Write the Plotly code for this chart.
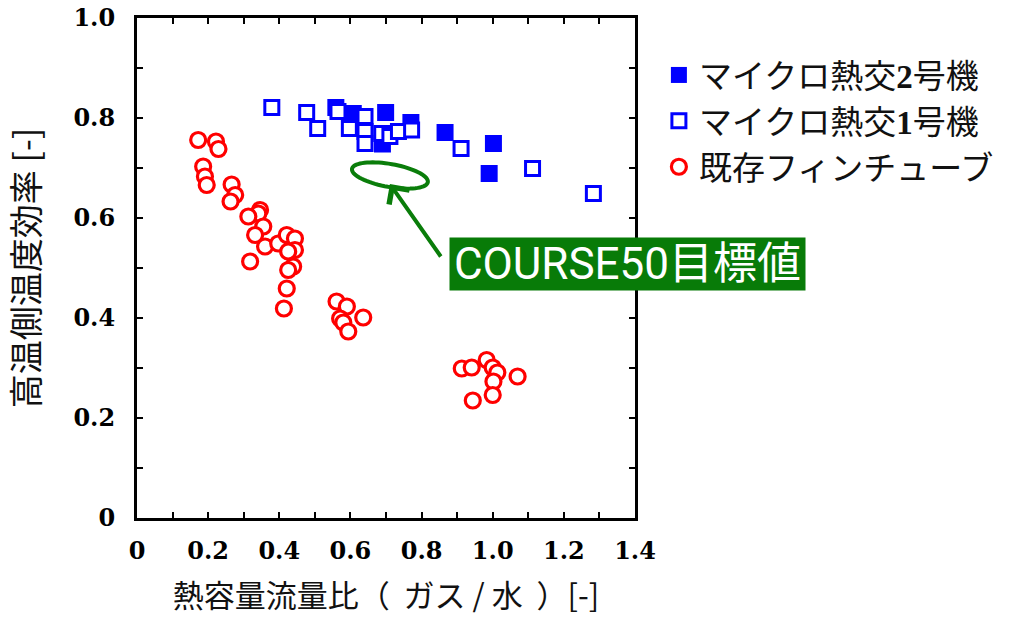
import numpy as np
import plotly.graph_objects as go

# --- data: heat-capacity-flow ratio (gas/water) vs. high-temperature-side efficiency ---
micro2_x = [0.559, 0.608, 0.699, 0.770, 0.690, 0.866, 1.002, 0.990]
micro2_y = [0.821, 0.809, 0.811, 0.791, 0.748, 0.771, 0.749, 0.689]

micro1_x = [0.379, 0.477, 0.508, 0.565, 0.597, 0.641, 0.641, 0.641, 0.688, 0.711,
            0.735, 0.772, 0.911, 1.112, 1.283]
micro1_y = [0.821, 0.811, 0.779, 0.813, 0.779, 0.803, 0.773, 0.749, 0.769, 0.763,
            0.773, 0.776, 0.739, 0.699, 0.649]

fin_x = [0.172, 0.222, 0.229, 0.186, 0.191, 0.196, 0.266, 0.276, 0.263, 0.346,
         0.341, 0.313, 0.355, 0.332, 0.360, 0.318, 0.397, 0.421, 0.444, 0.444,
         0.425, 0.439, 0.425, 0.421, 0.413,
         0.561, 0.590, 0.571, 0.636, 0.580, 0.594,
         0.913, 0.941, 0.983, 1.000, 1.013, 1.002, 1.070, 1.000, 0.944]
fin_y = [0.756, 0.753, 0.738, 0.703, 0.683, 0.666, 0.667, 0.646, 0.633, 0.616,
         0.609, 0.603, 0.583, 0.566, 0.543, 0.513, 0.549, 0.566, 0.559, 0.536,
         0.533, 0.503, 0.496, 0.459, 0.419,
         0.433, 0.423, 0.399, 0.401, 0.391, 0.373,
         0.299, 0.301, 0.316, 0.301, 0.291, 0.273, 0.283, 0.246, 0.235]

x_ticks = [0, 0.2, 0.4, 0.6, 0.8, 1.0, 1.2, 1.4]
x_ticktext = ["0", "0.2", "0.4", "0.6", "0.8", "1.0", "1.2", "1.4"]
y_ticks = [0, 0.2, 0.4, 0.6, 0.8, 1.0]
y_ticktext = ["0", "0.2", "0.4", "0.6", "0.8", "1.0"]

# target region (COURSE50) marked by a tilted ellipse
target_cx, target_cy = 0.711, 0.685
target_a, target_b, target_tilt_deg = 38.5, 11.5, 10.0   # semi-axes in px, tilt
arrow_tip = (0.711, 0.668)
arrow_tail = (0.857, 0.520)

# --- layout geometry ---
W, H = 1011, 617
M_L, M_R, M_T, M_B = 137, 376, 18, 99
X_RANGE = [0, 1.4]
Y_RANGE = [0, 1.0]
px_per_x = (W - M_L - M_R) / (X_RANGE[1] - X_RANGE[0])
px_per_y = (H - M_T - M_B) / (Y_RANGE[1] - Y_RANGE[0])

BLUE = "#0000FF"
RED = "#FF0000"
GREEN = "#0A7D0A"
CJK = "Noto Sans CJK JP"
TICKFONT = dict(family="DejaVu Serif", size=24, color="black", weight="bold")
LEGFONT = dict(family="Liberation Serif, Noto Sans CJK JP", size=33, color="#111")

fig = go.Figure()
fig.add_trace(go.Scatter(
    x=micro2_x, y=micro2_y, mode="markers", name="マイクロ熱交<b>2</b>号機",
    marker=dict(symbol="square", size=17, color=BLUE, line=dict(width=0)),
))
fig.add_trace(go.Scatter(
    x=micro1_x, y=micro1_y, mode="markers", name="マイクロ熱交<b>1</b>号機",
    marker=dict(symbol="square", size=14, color="white", line=dict(width=3, color=BLUE)),
))
fig.add_trace(go.Scatter(
    x=fin_x, y=fin_y, mode="markers", name="既存フィンチューブ",
    marker=dict(symbol="circle", size=15, color="white", line=dict(width=3.2, color=RED)),
))

# tilted ellipse drawn as a closed path in data coordinates
phi = np.linspace(0, 2 * np.pi, 73)
th = np.deg2rad(target_tilt_deg)
dx = target_a * np.cos(phi) * np.cos(th) - target_b * np.sin(phi) * np.sin(th)
dy = target_a * np.cos(phi) * np.sin(th) + target_b * np.sin(phi) * np.cos(th)
ex = target_cx + dx / px_per_x
ey = target_cy - dy / px_per_y
path = "M " + " L ".join(f"{a:.5f},{b:.5f}" for a, b in zip(ex, ey)) + " Z"
fig.add_shape(type="path", path=path, xref="x", yref="y",
              line=dict(color=GREEN, width=4))

# arrow from the label to the ellipse
fig.add_annotation(
    x=arrow_tip[0], y=arrow_tip[1], ax=arrow_tail[0], ay=arrow_tail[1],
    xref="x", yref="y", axref="x", ayref="y", text="",
    showarrow=True, arrowhead=4, arrowsize=1.2, arrowwidth=4, arrowcolor=GREEN,
)

# label box
fig.add_annotation(
    x=(627.5 - M_L) / (W - M_L - M_R), y=(H - M_B - 264) / (H - M_T - M_B),
    xref="paper", yref="paper", xanchor="center", yanchor="middle",
    text="COURSE50目標値", showarrow=False,
    font=dict(family="Roboto, Noto Sans CJK JP", size=44, color="white"),
    bgcolor="#087B08", width=351, height=48, borderpad=2,
)

axis_common = dict(
    showline=True, linecolor="black", linewidth=3, mirror="ticks",
    ticks="inside", ticklen=6, tickwidth=2, tickcolor="black",
    showgrid=False, zeroline=False, tickfont=TICKFONT, automargin=False,
)
fig.update_xaxes(
    range=X_RANGE, tickvals=x_ticks, ticktext=x_ticktext, ticklabelstandoff=9,
    minor=dict(dtick=0.1, ticks="inside", ticklen=6, tickwidth=2, tickcolor="black", showgrid=False),
    title=dict(text="熱容量流量比（  ガス / 水  ）[-]", font=dict(family=CJK, size=31, color="#111"), standoff=22),
    **axis_common,
)
fig.update_yaxes(
    range=Y_RANGE, tickvals=y_ticks, ticktext=y_ticktext, ticklabelstandoff=14,
    minor=dict(dtick=0.1, ticks="inside", ticklen=6, tickwidth=2, tickcolor="black", showgrid=False),
    title=dict(text="高温側温度効率 [-]", font=dict(family=CJK, size=34, color="#111"), standoff=24),
    **axis_common,
)

fig.update_layout(
    width=W, height=H,
    margin=dict(l=M_L, r=M_R, t=M_T, b=M_B, autoexpand=False),
    paper_bgcolor="white", plot_bgcolor="white",
    showlegend=True,
    legend=dict(x=1.048, y=0.942, xanchor="left", yanchor="top",
                font=LEGFONT, bgcolor="rgba(0,0,0,0)", tracegroupgap=0,
                itemwidth=30),
)

fig.write_html("out.html")
